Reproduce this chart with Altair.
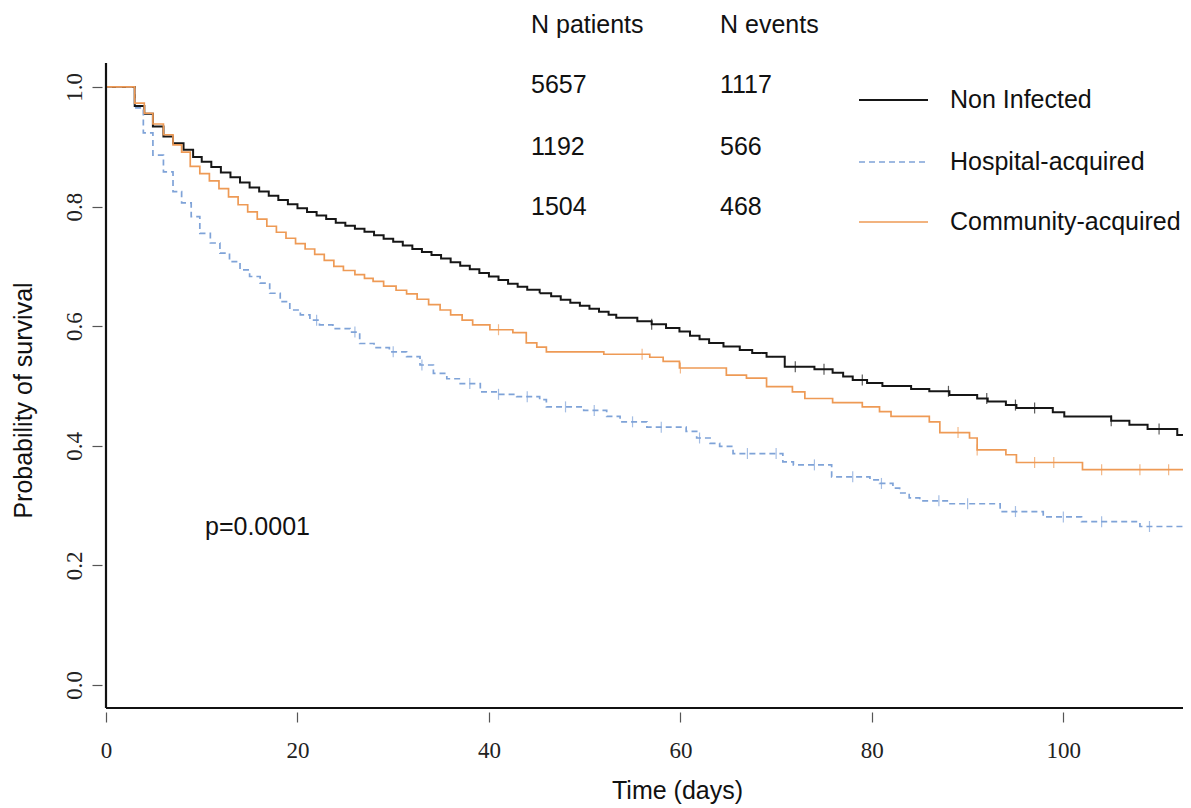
import altair as alt
import pandas as pd

# ---------------- data ----------------
groups = ["Non Infected", "Hospital-acquired", "Community-acquired"]
n_patients = [5657, 1192, 1504]
n_events = [1117, 566, 468]
p_text = "p=0.0001"
x_title = "Time (days)"
y_title = "Probability of survival"
header_patients = "N patients"
header_events = "N events"

x_ticks = [0, 20, 40, 60, 80, 100]
y_ticks = [0.0, 0.2, 0.4, 0.6, 0.8, 1.0]

# Non Infected (black)
t_non = [0, 3.0, 4.0, 4.9, 6.0, 7.0, 8.1, 9.1, 10, 11, 12, 13, 14, 15, 16, 17, 18, 19, 20,
         21, 22, 23, 24, 25, 26, 27, 28, 29, 30, 31, 32, 33, 34, 35, 36, 37, 38, 39, 40,
         41, 42, 43, 44, 45.3, 46.5, 47.5, 48.5, 49.5, 50.5, 51.5, 52.5, 53.3, 55.5, 57,
         58.5, 59.9, 61, 62, 63, 64.5, 66.2, 67.5, 69, 70.9, 74, 75.9, 77, 78, 79.5, 81.1,
         84.1, 86, 88.1, 91, 92.1, 94, 95.1, 98.9, 100.1, 105, 106.9, 108.8, 111.9, 112.5]
s_non = [1.0, 0.968, 0.955, 0.934, 0.917, 0.906, 0.895, 0.883, 0.875, 0.866, 0.857, 0.849,
         0.840, 0.832, 0.825, 0.818, 0.811, 0.804, 0.797, 0.791, 0.785, 0.779, 0.773, 0.768,
         0.763, 0.758, 0.752, 0.746, 0.741, 0.735, 0.729, 0.724, 0.719, 0.713, 0.707, 0.701,
         0.695, 0.689, 0.683, 0.677, 0.671, 0.666, 0.661, 0.655, 0.650, 0.644, 0.639, 0.634,
         0.629, 0.624, 0.619, 0.614, 0.608, 0.603, 0.597, 0.591, 0.584, 0.578, 0.572, 0.566,
         0.560, 0.555, 0.549, 0.532, 0.528, 0.522, 0.516, 0.510, 0.505, 0.500, 0.495, 0.491,
         0.485, 0.479, 0.474, 0.468, 0.463, 0.456, 0.449, 0.442, 0.435, 0.428, 0.418, 0.418]
c_non = [57, 72, 75, 79, 88, 92, 95, 97, 105, 110]

# Hospital-acquired (blue dashed)
t_hosp = [0, 3.0, 3.9, 4.9, 6.0, 7.0, 7.9, 8.9, 9.8, 10.9, 11.9, 12.9, 14.0, 15.0, 16.1,
          17.1, 18.2, 19.2, 20.3, 21.3, 22.3, 23.7, 25.5, 26.5, 28, 29.6, 31.4, 32.8, 34.2,
          35.6, 37, 39.1, 41, 42.9, 45.3, 46, 49.9, 52.3, 53.7, 56.5, 60.6, 61.7, 63.1,
          64.1, 65.5, 70.7, 71.8, 75.8, 79.8, 80.8, 82.2, 82.9, 83.9, 85, 88, 93.4, 97.9,
          101.9, 108, 112.5]
s_hosp = [1.0, 0.965, 0.923, 0.886, 0.858, 0.825, 0.806, 0.783, 0.755, 0.739, 0.722, 0.708,
          0.694, 0.683, 0.672, 0.655, 0.641, 0.627, 0.619, 0.610, 0.602, 0.596, 0.590, 0.571,
          0.564, 0.557, 0.549, 0.535, 0.521, 0.512, 0.504, 0.490, 0.486, 0.482, 0.477, 0.465,
          0.459, 0.449, 0.440, 0.431, 0.424, 0.413, 0.404, 0.399, 0.387, 0.373, 0.368, 0.348,
          0.343, 0.337, 0.329, 0.321, 0.313, 0.308, 0.303, 0.290, 0.281, 0.273, 0.265, 0.265]
c_hosp = [22, 26, 30, 33, 38, 41, 44, 48, 51, 55, 58, 62, 67, 70, 74, 78, 81, 87, 90, 95,
          100, 104, 109]

# Community-acquired (orange)
t_comm = [0, 3.0, 4.0, 4.9, 6.0, 7.0, 7.9, 8.8, 9.8, 10.8, 11.8, 12.8, 13.8, 14.8, 15.8,
          16.8, 17.8, 18.8, 19.8, 20.8, 21.8, 22.8, 23.8, 24.8, 26, 27, 27.9, 29, 30.3, 31.4,
          32.5, 33.7, 34.9, 36, 37.2, 38.3, 40.1, 42.5, 43.9, 45, 46, 52, 56.8, 58.2, 59.9,
          64.8, 66.9, 69, 71.7, 73, 75.9, 79, 80.8, 82, 86, 87.1, 90.2, 91, 94, 95.1, 102,
          112.5]
s_comm = [1.0, 0.973, 0.956, 0.938, 0.920, 0.903, 0.891, 0.867, 0.855, 0.843, 0.830, 0.816,
          0.803, 0.791, 0.779, 0.767, 0.757, 0.747, 0.738, 0.729, 0.720, 0.710, 0.700, 0.693,
          0.686, 0.680, 0.675, 0.667, 0.660, 0.654, 0.645, 0.636, 0.627, 0.619, 0.610, 0.602,
          0.594, 0.589, 0.572, 0.565, 0.557, 0.553, 0.548, 0.541, 0.530, 0.518, 0.513, 0.499,
          0.490, 0.479, 0.472, 0.465, 0.457, 0.449, 0.440, 0.422, 0.413, 0.393, 0.385, 0.372,
          0.360, 0.360]
c_comm = [41, 56, 60, 89, 91, 97, 99, 104, 108, 111]

series_t = [t_non, t_hosp, t_comm]
series_s = [s_non, s_hosp, s_comm]
series_c = [c_non, c_hosp, c_comm]

# ---------------- styles ----------------
colors = ["#161616", "#7fa3d8", "#ee9a55"]
widths = [2.0, 1.7, 1.7]
dashes = [[1, 0], [6, 4], [1, 0]]
SANS = "Liberation Sans"
SERIF = "Liberation Serif"
W, H = 1077, 645

x_scale = alt.Scale(domain=[0, 112.5], nice=False, zero=False)
y_scale = alt.Scale(domain=[-0.0385, 1.04], nice=False, zero=False)

x_axis = alt.Axis(values=x_ticks, title=x_title, grid=False, domain=False, offset=4,
                  tickSize=10, tickColor="#555", tickWidth=1.2,
                  labelFont=SERIF, labelFontSize=23, labelColor="#222",
                  labelBaseline="middle", labelPadding=28, labelFlush=False,
                  titleFont=SANS, titleFontSize=25, titleFontWeight="normal",
                  titleColor="#111", titleX=571, titleY=78, titleBaseline="middle",
                  titleAlign="center")
y_axis = alt.Axis(values=y_ticks, format=".1f", title=y_title, grid=False, domain=False,
                  offset=4, tickSize=10, tickColor="#555", tickWidth=1.2,
                  labelFont=SERIF, labelFontSize=23, labelColor="#222", labelAngle=270,
                  labelAlign="center", labelBaseline="middle", labelPadding=18,
                  labelFlush=False,
                  titleFont=SANS, titleFontSize=25, titleFontWeight="normal",
                  titleColor="#111", titleAngle=270, titleX=-79, titleY=337,
                  titleBaseline="middle", titleAlign="center")


def step_value(ts, ss, t):
    val = ss[0]
    for ti, si in zip(ts, ss):
        if ti <= t:
            val = si
    return val


X = alt.X("t:Q", scale=x_scale, axis=x_axis)
Y = alt.Y("s:Q", scale=y_scale, axis=y_axis)

layers = []
for i, g in enumerate(groups):
    df = pd.DataFrame({"t": series_t[i], "s": series_s[i]})
    layers.append(
        alt.Chart(df).mark_line(interpolate="step-after", color=colors[i],
                                strokeWidth=widths[i], strokeDash=dashes[i]).encode(x=X, y=Y)
    )
    cdf = pd.DataFrame({"t": series_c[i],
                        "s": [step_value(series_t[i], series_s[i], c) for c in series_c[i]]})
    layers.append(
        alt.Chart(cdf).mark_tick(orient="vertical", color=colors[i], size=11,
                                 thickness=1.2).encode(x=X, y=Y)
    )

one = pd.DataFrame({"a": [0]})
# L-shaped box
layers.append(alt.Chart(one).mark_rule(color="#111", strokeWidth=2.2).encode(
    x=alt.value(0), y=alt.value(0), y2=alt.value(H)))
layers.append(alt.Chart(one).mark_rule(color="#111", strokeWidth=2.2).encode(
    x=alt.value(0), x2=alt.value(W), y=alt.value(H)))


def text_layer(label, x, y, size=25):
    return alt.Chart(pd.DataFrame({"label": [label]})).mark_text(
        align="left", baseline="middle", font=SANS, fontSize=size, color="#111"
    ).encode(text="label:N", x=alt.value(x), y=alt.value(y))


layers.append(text_layer(header_patients, 425, -38))
layers.append(text_layer(header_events, 614, -38))
row_y = [22, 84, 144]
leg_y = [37, 99, 159]
for i, g in enumerate(groups):
    layers.append(text_layer(str(n_patients[i]), 425, row_y[i]))
    layers.append(text_layer(str(n_events[i]), 614, row_y[i]))
    layers.append(alt.Chart(one).mark_rule(color=colors[i], strokeWidth=widths[i],
                                           strokeDash=dashes[i]).encode(
        x=alt.value(753), x2=alt.value(822), y=alt.value(leg_y[i])))
    layers.append(text_layer(g, 844, leg_y[i]))
layers.append(text_layer(p_text, 99, 464))

chart = alt.layer(*layers).properties(
    width=W, height=H,
    background="white",
    autosize=alt.AutoSizeParams(type="none"),
    padding={"left": 98, "top": 55, "right": 0, "bottom": 100},
).configure_view(stroke="transparent", strokeWidth=0)

chart.save("out.html", embed_options={"renderer": "svg", "actions": False})
